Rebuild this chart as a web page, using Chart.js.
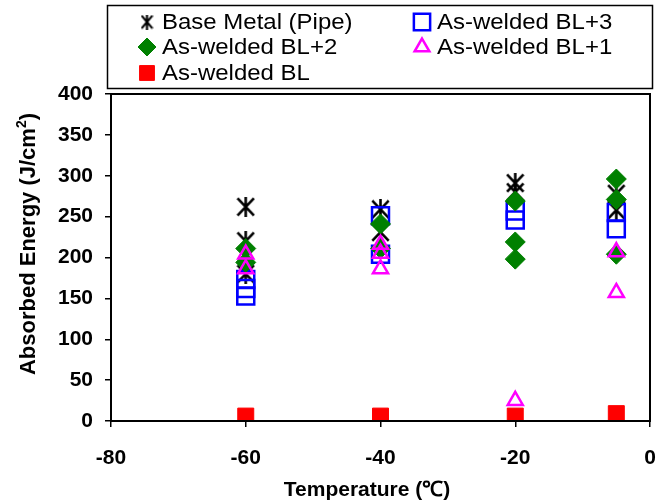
<!DOCTYPE html>
<html>
<head>
<meta charset="utf-8">
<script src="https://cdn.jsdelivr.net/npm/chart.js@4.4.1/dist/chart.umd.min.js"></script>
<style>
html,body{margin:0;padding:0;background:#fff;}
#wrap{position:relative;width:657px;height:502px;}
</style>
</head>
<body>
<div id="wrap"><canvas id="c" width="657" height="502"></canvas></div>
<script>
// ---- Data ----
const xTicks = [-80, -60, -40, -20, 0];
const yTicks = [0, 50, 100, 150, 200, 250, 300, 350, 400];

const seriesNames = ["Base Metal (Pipe)", "As-welded BL+3", "As-welded BL+2", "As-welded BL+1", "As-welded BL"];
const xTitle = "Temperature (\u2103)";
const yTitleMain = "Absorbed Energy (J/cm";
const yTitleSup = "2";
const yTitleEnd = ")";

const baseMetalT = [-60, -60, -60, -40, -40, -20, -20, -5, -5];
const baseMetalE = [262, 220, 180, 259, 231, 291, 280, 278, 258];

const bl3T = [-60, -60, -60, -40, -40, -20, -20, -5, -5];
const bl3E = [173, 162, 153, 251, 204, 257, 246, 255, 235];

const bl2T = [-60, -60, -40, -40, -20, -20, -20, -5, -5, -5];
const bl2E = [211, 194, 241, 211, 269, 219, 198, 296, 271, 204];

const bl1T = [-60, -60, -40, -40, -40, -20, -5, -5];
const bl1E = [204, 186, 216, 205, 186, 25, 207, 157];

const blT = [-60, -40, -20, -5];
const blE = [6, 6, 6, 9];

function pts(xs, ys) { return xs.map((x, i) => ({x: x, y: ys[i]})); }

// asterisk marker image (X plus vertical bar)
function makeAsterisk(w, h, lw) {
  const c = document.createElement('canvas');
  c.width = w; c.height = h;
  const g = c.getContext('2d');
  g.strokeStyle = '#000';
  g.lineWidth = lw;
  const p = lw / 2;
  g.beginPath();
  g.moveTo(w / 2, 0); g.lineTo(w / 2, h);
  g.moveTo(p, p); g.lineTo(w - p, h - p);
  g.moveTo(p, h - p); g.lineTo(w - p, p);
  g.stroke();
  return c;
}
const starBig = makeAsterisk(19, 20, 2.6);
const starSmall = makeAsterisk(13, 15, 2.2);

const FONT = "'Liberation Sans', Arial, Helvetica, sans-serif";

const datasets = [
  {label: seriesNames[0], data: pts(baseMetalT, baseMetalE), pointStyle: starBig, pointRadius: 10, order: 5,
   borderColor: '#000', backgroundColor: '#000'},
  {label: seriesNames[1], data: pts(bl3T, bl3E), pointStyle: 'rect', pointRadius: 12, pointBorderWidth: 2.5, order: 4,
   borderColor: '#0000ff', backgroundColor: 'rgba(255,255,255,0)'},
  {label: seriesNames[2], data: pts(bl2T, bl2E), pointStyle: 'rectRot', pointRadius: 10, pointBorderWidth: 1, order: 3,
   borderColor: '#008000', backgroundColor: '#008000'},
  {label: seriesNames[3], data: pts(bl1T, bl1E), pointStyle: 'triangle', pointRadius: 8.7, pointBorderWidth: 2.5, order: 2,
   borderColor: '#ff00ff', backgroundColor: 'rgba(255,255,255,0)'},
  {label: seriesNames[4], data: pts(blT, blE), pointStyle: 'rect', pointRadius: 11.3, pointBorderWidth: 1, order: 1,
   borderColor: '#ff0000', backgroundColor: '#ff0000'}
];

const legendLayout = [
  {ds: 0, x: 147, y: 22, style: starSmall, r: 8},
  {ds: 1, x: 422, y: 22, style: 'rect', r: 11.5, bw: 2.5},
  {ds: 2, x: 147, y: 47, style: 'rectRot', r: 9, bw: 1},
  {ds: 3, x: 422, y: 47, style: 'triangle', r: 8.5, bw: 2.5},
  {ds: 4, x: 147, y: 73, style: 'rect', r: 10.5, bw: 1}
];

const framePlugin = {
  id: 'frameAndLegend',
  afterDraw(chart) {
    const ctx = chart.ctx;
    const a = chart.chartArea;
    ctx.save();
    ctx.strokeStyle = '#000';
    ctx.lineWidth = 2;
    ctx.strokeRect(a.left, a.top, a.right - a.left, a.bottom - a.top);
    // legend box
    ctx.lineWidth = 1.5;
    ctx.strokeRect(107.5, 5.5, 545, 83);
    ctx.fillStyle = '#000';
    ctx.textBaseline = 'middle';
    ctx.textAlign = 'left';
    legendLayout.forEach(it => {
      const d = datasets[it.ds];
      ctx.save();
      ctx.strokeStyle = d.borderColor;
      ctx.fillStyle = d.backgroundColor;
      ctx.lineWidth = it.bw || 1;
      Chart.helpers.drawPoint(ctx, {pointStyle: it.style, radius: it.r, rotation: 0, borderWidth: it.bw || 1}, it.x, it.y);
      ctx.restore();
      ctx.save();
      ctx.translate(it.x + 15, it.y + 1);
      ctx.scale(1.09, 1);
      ctx.font = '22px ' + FONT;
      ctx.fillStyle = '#000';
      ctx.fillText(d.label, 0, 0);
      ctx.restore();
    });
    // x title
    ctx.font = 'bold 21px ' + FONT;
    ctx.textAlign = 'center';
    ctx.textBaseline = 'middle';
    ctx.fillText(xTitle, 367, 490);
    // y title (rotated, with superscript)
    ctx.save();
    ctx.translate(27, 244);
    ctx.rotate(-Math.PI / 2);
    const fMain = 'bold 22px ' + FONT, fSup = 'bold 14px ' + FONT;
    ctx.font = fMain;
    const w1 = ctx.measureText(yTitleMain).width;
    const w3 = ctx.measureText(yTitleEnd).width;
    ctx.font = fSup;
    const w2 = ctx.measureText(yTitleSup).width;
    let x0 = -(w1 + w2 + w3) / 2;
    ctx.textAlign = 'left';
    ctx.textBaseline = 'alphabetic';
    ctx.font = fMain;
    ctx.fillText(yTitleMain, x0, 8);
    ctx.font = fSup;
    ctx.fillText(yTitleSup, x0 + w1, -1);
    ctx.font = fMain;
    ctx.fillText(yTitleEnd, x0 + w1 + w2, 8);
    ctx.restore();
    ctx.restore();
  }
};

new Chart(document.getElementById('c'), {
  type: 'scatter',
  data: {datasets: datasets},
  options: {
    responsive: false,
    animation: false,
    devicePixelRatio: 1,
    layout: {autoPadding: false, padding: {left: 0, top: 94, right: 7, bottom: 0}},
    plugins: {legend: {display: false}, tooltip: {enabled: false}},
    scales: {
      x: {
        type: 'linear', min: -80, max: 0,
        afterBuildTicks: s => { s.ticks = xTicks.map(v => ({value: v})); },
        afterFit: s => { s.height = 81; s.paddingLeft = 0; s.paddingRight = 0; },
        border: {display: true, color: '#000', width: 2},
        grid: {display: true, drawOnChartArea: false, drawTicks: true, tickLength: 6, color: '#000', lineWidth: 1.5},
        ticks: {color: '#000', padding: 19, font: {family: FONT, size: 21, weight: 'bold'}, maxRotation: 0},
        title: {display: false}
      },
      y: {
        type: 'linear', min: 0, max: 400,
        afterBuildTicks: s => { s.ticks = yTicks.map(v => ({value: v})); },
        afterFit: s => { s.width = 111; s.paddingTop = 0; s.paddingBottom = 0; },
        border: {display: true, color: '#000', width: 2},
        grid: {display: true, drawOnChartArea: false, drawTicks: true, tickLength: 6, color: '#000', lineWidth: 1.5},
        ticks: {color: '#000', padding: 12, font: {family: FONT, size: 21, weight: 'bold'}},
        title: {display: false}
      }
    }
  },
  plugins: [framePlugin]
});
</script>
</body>
</html>
